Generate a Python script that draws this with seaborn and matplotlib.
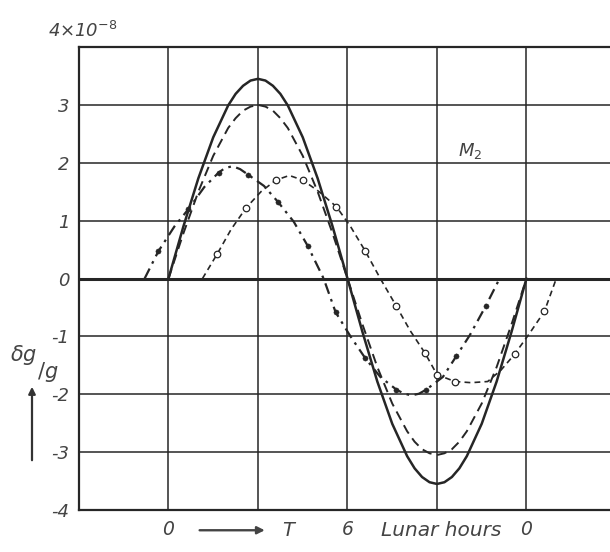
import matplotlib
matplotlib.use("Agg")
import matplotlib.pyplot as plt
import seaborn as sns
import pandas as pd

# ---- data ----
hours_sine = [0, 0.5, 1, 1.5, 2, 2.25, 2.5, 2.75, 3, 3.25, 3.5, 3.75, 4, 4.5, 5, 5.5, 6,
              6.5, 7, 7.5, 8, 8.25, 8.5, 8.75, 9, 9.25, 9.5, 9.75, 10, 10.5, 11, 11.5, 12]
solid_vals = [0, 0.9, 1.73, 2.44, 2.99, 3.19, 3.33, 3.42, 3.45, 3.42, 3.33, 3.19, 2.99,
              2.44, 1.73, 0.9, 0,
              -0.92, -1.78, -2.51, -3.07, -3.28, -3.43, -3.52, -3.55, -3.52, -3.43, -3.28,
              -3.07, -2.51, -1.78, -0.92, 0]
dashed_vals = [0, 0.78, 1.5, 2.12, 2.6, 2.77, 2.9, 2.97, 3.0, 2.97, 2.9, 2.77, 2.6,
               2.12, 1.5, 0.78, 0,
               -0.79, -1.53, -2.16, -2.64, -2.82, -2.95, -3.02, -3.05, -3.02, -2.95, -2.82,
               -2.64, -2.16, -1.53, -0.79, 0]

hours_dot = [-0.8, -0.34, 0.2, 0.67, 1.2, 1.68, 1.9, 2.15, 2.4, 2.68, 3.2, 3.66, 4.2, 4.66,
             5.2, 5.6, 6.1, 6.6, 7.1, 7.64, 7.9, 8.15, 8.4, 8.64, 9.2, 9.65, 10.1, 10.63, 11.1]
dot_vals = [0, 0.47, 0.9, 1.2, 1.58, 1.83, 1.91, 1.94, 1.89, 1.79, 1.6, 1.33, 0.98, 0.57,
            0, -0.58, -1.0, -1.38, -1.7, -1.92, -1.99, -2.02, -1.99, -1.92, -1.7, -1.34,
            -0.98, -0.48, 0]
dot_marker_idx = [1, 3, 5, 9, 11, 13, 15, 17, 19, 23, 25, 27]

hours_circ = [1.14, 1.64, 2.1, 2.6, 3.1, 3.6, 4.05, 4.5, 5.05, 5.63, 6.1, 6.6, 7.1,
              7.64, 8.1, 8.6, 9.0, 9.6, 10.15, 10.7, 11.15, 11.6, 12.1, 12.6, 13.0]
circ_vals = [0, 0.43, 0.85, 1.22, 1.5, 1.7, 1.78, 1.7, 1.5, 1.24, 0.9, 0.47, 0,
             -0.48, -0.9, -1.29, -1.66, -1.78, -1.8, -1.78, -1.58, -1.31, -0.95, -0.57, 0]
circ_marker_idx = [1, 3, 5, 7, 9, 11, 13, 15, 16, 17, 21, 23]

y_ticks = [-4, -3, -2, -1, 0, 1, 2, 3]
y_ticklabels = ["-4", "-3", "-2", "-1", "0", "1", "2", "3"]
x_ticks = [0, 3, 6, 9, 12]
x_ticklabels = ["0", "", "6", "", "0"]

# ---- figure ----
sns.set_style("white")
plt.rcParams["font.family"] = ["DejaVu Sans"]
INK = "#262626"
TXT = "#444444"

fig = plt.figure(figsize=(6.10, 5.52), dpi=100)
ax = fig.add_axes([79 / 610, 1 - 510 / 552, (610 - 79) / 610, (510 - 47) / 552])

df_solid = pd.DataFrame({"h": hours_sine, "v": solid_vals})
df_dash = pd.DataFrame({"h": hours_sine, "v": dashed_vals})
df_dot = pd.DataFrame({"h": hours_dot, "v": dot_vals})
df_circ = pd.DataFrame({"h": hours_circ, "v": circ_vals})

sns.lineplot(data=df_solid, x="h", y="v", ax=ax, color=INK, lw=1.8,
             sort=False, estimator=None)
sns.lineplot(data=df_dash, x="h", y="v", ax=ax, color=INK, lw=1.4,
             sort=False, estimator=None, linestyle=(0, (5, 3)))
sns.lineplot(data=df_dot, x="h", y="v", ax=ax, color=INK, lw=1.6,
             sort=False, estimator=None, linestyle=(0, (5, 2.5, 1.2, 2.5)))
sns.lineplot(data=df_circ, x="h", y="v", ax=ax, color=INK, lw=1.2,
             sort=False, estimator=None, linestyle=(0, (3.5, 2.5)))

sns.scatterplot(data=df_dot.iloc[dot_marker_idx], x="h", y="v", ax=ax,
                color=INK, s=14, edgecolor=INK, linewidth=0.3, zorder=5)
sns.scatterplot(data=df_circ.iloc[circ_marker_idx], x="h", y="v", ax=ax,
                facecolor="white", edgecolor=INK, s=22, linewidth=0.9, zorder=5)

ax.set_xlim(-3, 14.8)
ax.set_ylim(-4, 4)
ax.set_xticks(x_ticks)
ax.set_xticklabels(x_ticklabels, fontsize=13.5, style="italic", color=TXT)
ax.set_yticks(y_ticks)
ax.set_yticklabels(y_ticklabels, fontsize=13, style="italic", color=TXT)
ax.tick_params(axis="y", length=0, pad=7)
ax.tick_params(axis="x", length=0, pad=7)
ax.set_xlabel("")
ax.set_ylabel("")

ax.grid(True, color=INK, lw=1.1)
ax.set_axisbelow(True)
ax.axhline(0, color=INK, lw=2.2, zorder=1)
for s in ["left", "top", "bottom"]:
    ax.spines[s].set_color(INK)
    ax.spines[s].set_linewidth(1.6)
ax.spines["right"].set_visible(False)

# texts
fig.text(48 / 610, 1 - 31 / 552, r"4$\times$10$^{-8}$", fontsize=13,
         style="italic", color=TXT, va="center", ha="left")
ax.text(10.1, 2.2, r"$M_2$", fontsize=13, color=TXT, ha="center", va="center")
ax.annotate("", xy=(0.95, -4.35), xytext=(3.32, -4.35), xycoords="data",
            arrowprops=dict(arrowstyle="<|-", color=TXT, lw=1.7,
                            mutation_scale=11), annotation_clip=False)
ax.text(4.0, -4.36, "T", fontsize=14, style="italic", color=TXT,
        ha="center", va="center", clip_on=False)
ax.text(9.15, -4.35, "Lunar hours", fontsize=14.5, style="italic", color=TXT,
        ha="center", va="center", clip_on=False)

# y-axis label: slanted fraction "δg/g" with upward arrow
fig.text(24 / 610, 1 - 355 / 552, r"$\delta g$", fontsize=15, color=TXT,
         ha="center", va="center")
fig.text(48 / 610, 1 - 372 / 552, r"/$g$", fontsize=15, color=TXT,
         ha="center", va="center")
fig.patches.append(matplotlib.patches.FancyArrowPatch(
    (32 / 610, 1 - 463 / 552), (32 / 610, 1 - 384 / 552),
    transform=fig.transFigure, arrowstyle="-|>", mutation_scale=10,
    color="#333", lw=1.6))

fig.savefig("out.png", dpi=100)
